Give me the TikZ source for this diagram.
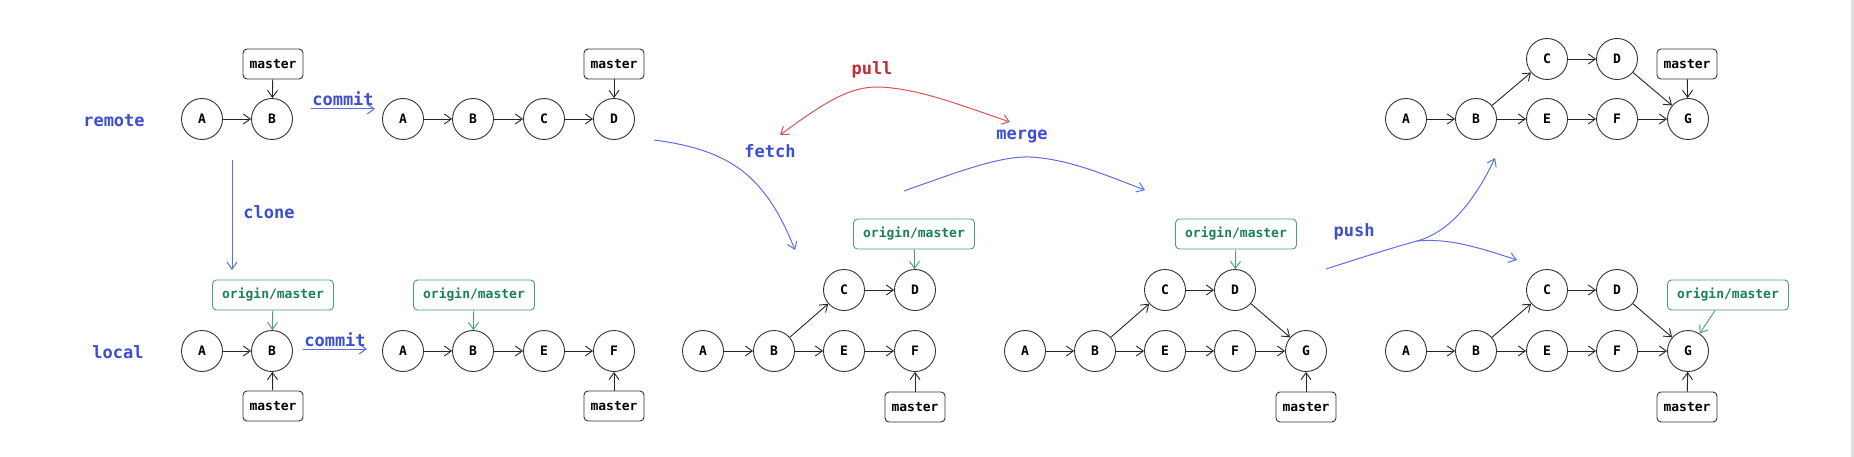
\documentclass[tikz,border=0pt]{standalone}
\usepackage{fontspec}
\usetikzlibrary{arrows.meta}
\newfontfamily\mymono{DejaVu Sans Mono}
\definecolor{blueT}{RGB}{60,78,210}
\definecolor{blueA}{RGB}{95,110,228}
\definecolor{greenT}{RGB}{25,128,88}
\definecolor{greenB}{RGB}{70,160,120}
\definecolor{redT}{RGB}{200,40,50}
\definecolor{redA}{RGB}{215,85,85}
\tikzset{
  cmt/.style={circle, draw=black!80, line width=0.9pt, minimum size=41pt, inner sep=0pt, font=\mymono\bfseries\fontsize{13}{15}\selectfont},
  refbox/.style={rounded corners=4pt, draw=black!80, line width=0.9pt, minimum width=60pt, minimum height=30pt, inner sep=2pt, font=\mymono\bfseries\fontsize{13}{15}\selectfont},
  orgbox/.style={rounded corners=4pt, draw=greenB, text=greenT, line width=0.9pt, minimum width=121pt, minimum height=30pt, inner sep=2pt, font=\mymono\bfseries\fontsize{13}{15}\selectfont},
  lbl/.style={text=blueT, font=\mymono\bfseries\fontsize{17}{20}\selectfont, inner sep=0pt},
  redlbl/.style={text=redT, font=\mymono\bfseries\fontsize{17}{20}\selectfont, inner sep=0pt},
  tip/.style={-{Straight Barb[length=7pt,width=10pt]}},
  edge/.style={draw=black!85, line width=0.9pt, tip},
  gedge/.style={draw=greenB, line width=0.9pt, tip},
  barrow/.style={draw=blueA, line width=1pt, tip},
  rarrow/.style={draw=redA, line width=1pt, {Straight Barb[length=7pt,width=10pt]}-{Straight Barb[length=7pt,width=10pt]}},
}
\begin{document}
\begin{tikzpicture}[x=1pt,y=-1pt]
\useasboundingbox (0,0) rectangle (1854,457);
\fill[white] (0,0) rectangle (1854,457);
\draw[black!12, line width=2.5pt] (1852.5,0) -- (1852.5,457);

% row labels
\node[lbl] (tremote) at (114,121) {remote};
\node[lbl] (tlocal) at (118,352) {local};

% ---------- remote panel 1
\node[cmt] (r1A) at (202,119) {A};
\node[cmt] (r1B) at (272,119) {B};
\node[refbox] (r1M) at (273,64) {master};
\draw[edge] (r1A) -- (r1B);
\draw[edge] (r1M) -- (r1B);

% commit (upper)
\coordinate (c1s) at (311,109);
\coordinate (c1e) at (375,109);
\draw[barrow] (c1s) -- (c1e);
\node[lbl, anchor=base] (tcommit1) at (343,106) {commit};

% ---------- remote panel 2
\node[cmt] (r2A) at (403,119) {A};
\node[cmt] (r2B) at (473,119) {B};
\node[cmt] (r2C) at (544,119) {C};
\node[cmt] (r2D) at (614,119) {D};
\node[refbox] (r2M) at (614,64) {master};
\draw[edge] (r2A) -- (r2B);
\draw[edge] (r2B) -- (r2C);
\draw[edge] (r2C) -- (r2D);
\draw[edge] (r2M) -- (r2D);

% clone
\coordinate (cl1) at (232,160);
\coordinate (cl2) at (232,270);
\draw[barrow] (cl1) -- (cl2);
\node[lbl] (tclone) at (269,212) {clone};

% ---------- local panel 1
\node[cmt] (l1A) at (202,351) {A};
\node[cmt] (l1B) at (272,351) {B};
\node[orgbox] (l1O) at (273,295) {origin/master};
\node[refbox] (l1M) at (273,406) {master};
\draw[edge] (l1A) -- (l1B);
\draw[gedge] (l1O) -- (l1B);
\draw[edge] (l1M) -- (l1B);

% commit (lower)
\coordinate (c2s) at (303,349);
\coordinate (c2e) at (367,349);
\draw[barrow] (c2s) -- (c2e);
\node[lbl, anchor=base] (tcommit2) at (335,346) {commit};

% ---------- local panel 2
\node[cmt] (l2A) at (403,351) {A};
\node[cmt] (l2B) at (473,351) {B};
\node[cmt] (l2E) at (544,351) {E};
\node[cmt] (l2F) at (614,351) {F};
\node[orgbox] (l2O) at (474,295) {origin/master};
\node[refbox] (l2M) at (614,406) {master};
\draw[edge] (l2A) -- (l2B);
\draw[edge] (l2B) -- (l2E);
\draw[edge] (l2E) -- (l2F);
\draw[gedge] (l2O) -- (l2B);
\draw[edge] (l2M) -- (l2F);

% fetch
\coordinate (f1) at (654,140);
\coordinate (f2) at (795,250);
\draw[barrow] (f1) .. controls (730,150) and (765,175) .. (f2);
\node[lbl] (tfetch) at (770,151) {fetch};

% pull
\coordinate (p1) at (780,135);
\coordinate (p2) at (1010,122);
\draw[rarrow] (p1) .. controls (825,102) and (850,86) .. (880,87) .. controls (920,89) and (960,105) .. (p2);
\node[redlbl] (tpull) at (872,70) {pull};

% merge
\coordinate (m1) at (904,191);
\coordinate (m2) at (1145,190);
\draw[barrow] (m1) .. controls (960,171) and (1000,156) .. (1030,157) .. controls (1070,159) and (1110,177) .. (m2);
\node[lbl] (tmerge) at (1022,136) {merge};

% ---------- fetched panel
\node[cmt] (fA) at (703,351) {A};
\node[cmt] (fB) at (774,351) {B};
\node[cmt] (fC) at (844,290) {C};
\node[cmt] (fD) at (915,290) {D};
\node[cmt] (fE) at (844,351) {E};
\node[cmt] (fF) at (915,351) {F};
\node[orgbox] (fO) at (914,234) {origin/master};
\node[refbox] (fM) at (915,407) {master};
\draw[edge] (fA) -- (fB);
\draw[edge] (fB) -- (fC);
\draw[edge] (fC) -- (fD);
\draw[edge] (fB) -- (fE);
\draw[edge] (fE) -- (fF);
\draw[gedge] (fO) -- (fD);
\draw[edge] (fM) -- (fF);

% ---------- merged panel
\node[cmt] (mA) at (1025,351) {A};
\node[cmt] (mB) at (1095,351) {B};
\node[cmt] (mC) at (1165,290) {C};
\node[cmt] (mD) at (1235,290) {D};
\node[cmt] (mE) at (1165,351) {E};
\node[cmt] (mF) at (1235,351) {F};
\node[cmt] (mG) at (1306,351) {G};
\node[orgbox] (mO) at (1236,234) {origin/master};
\node[refbox] (mM) at (1306,407) {master};
\draw[edge] (mA) -- (mB);
\draw[edge] (mB) -- (mC);
\draw[edge] (mC) -- (mD);
\draw[edge] (mB) -- (mE);
\draw[edge] (mE) -- (mF);
\draw[edge] (mF) -- (mG);
\draw[edge] (mD) -- (mG);
\draw[gedge] (mO) -- (mD);
\draw[edge] (mM) -- (mG);

% push
\coordinate (ps) at (1326,269);
\coordinate (psp) at (1417,241);
\coordinate (pu) at (1495,158);
\coordinate (pr) at (1517,260);
\draw[draw=blueA, line width=1pt] (ps) .. controls (1360,258) and (1395,247) .. (psp);
\draw[barrow] (psp) .. controls (1450,232) and (1475,200) .. (pu);
\draw[barrow] (psp) .. controls (1450,238) and (1480,248) .. (pr);
\node[lbl] (tpush) at (1354,232) {push};

% ---------- remote final panel
\node[cmt] (tA) at (1406,119) {A};
\node[cmt] (tB) at (1476,119) {B};
\node[cmt] (tC) at (1547,59) {C};
\node[cmt] (tD) at (1617,59) {D};
\node[cmt] (tE) at (1547,119) {E};
\node[cmt] (tF) at (1617,119) {F};
\node[cmt] (tG) at (1688,119) {G};
\node[refbox] (tM) at (1687,64) {master};
\draw[edge] (tA) -- (tB);
\draw[edge] (tB) -- (tC);
\draw[edge] (tC) -- (tD);
\draw[edge] (tB) -- (tE);
\draw[edge] (tE) -- (tF);
\draw[edge] (tF) -- (tG);
\draw[edge] (tD) -- (tG);
\draw[edge] (tM) -- (tG);

% ---------- local final panel
\node[cmt] (bA) at (1406,351) {A};
\node[cmt] (bB) at (1476,351) {B};
\node[cmt] (bC) at (1547,290) {C};
\node[cmt] (bD) at (1617,290) {D};
\node[cmt] (bE) at (1547,351) {E};
\node[cmt] (bF) at (1617,351) {F};
\node[cmt] (bG) at (1688,351) {G};
\node[orgbox] (bO) at (1728,295) {origin/master};
\node[refbox] (bM) at (1687,407) {master};
\draw[edge] (bA) -- (bB);
\draw[edge] (bB) -- (bC);
\draw[edge] (bC) -- (bD);
\draw[edge] (bB) -- (bE);
\draw[edge] (bE) -- (bF);
\draw[edge] (bF) -- (bG);
\draw[edge] (bD) -- (bG);
\draw[gedge] ([xshift=-13pt]bO.south) -- (bG);
\draw[edge] (bM) -- (bG);
\end{tikzpicture}
\end{document}
